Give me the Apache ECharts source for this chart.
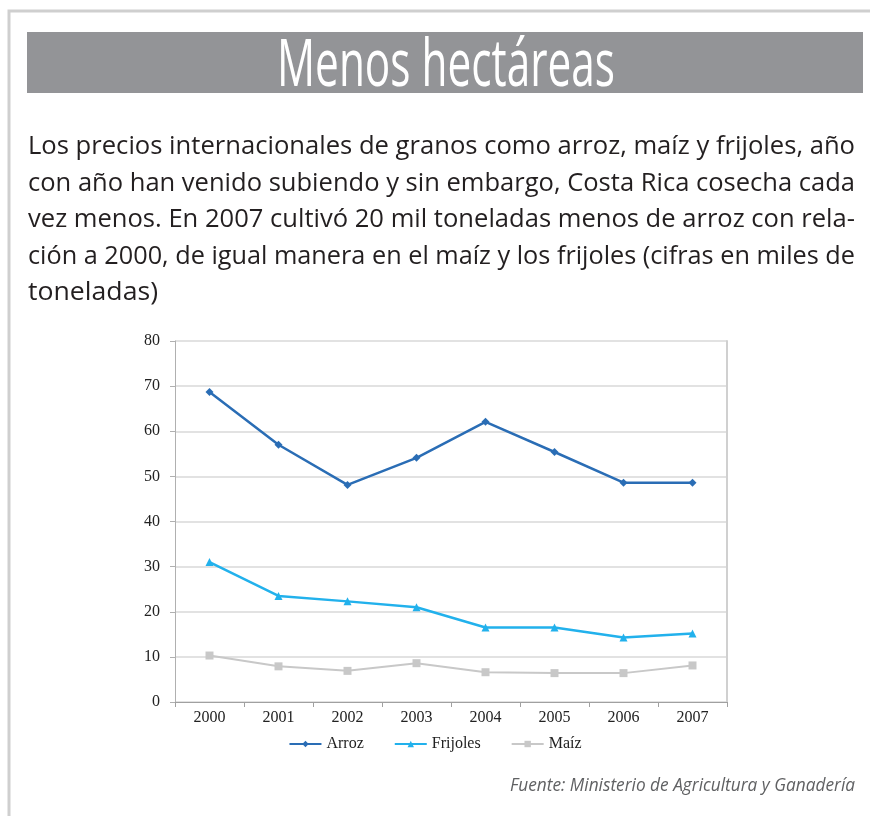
<!DOCTYPE html>
<html><head><meta charset="utf-8">
<script src="https://cdn.jsdelivr.net/npm/echarts@6/dist/echarts.min.js"></script>
<style>html,body{margin:0;padding:0;background:#fff}#c{width:870px;height:816px}</style>
</head><body><div id="c"></div>
<script>
const years = ['2000','2001','2002','2003','2004','2005','2006','2007'];
const arroz = [68.7, 57.0, 48.1, 54.1, 62.1, 55.4, 48.6, 48.6];
const frijoles = [31.0, 23.5, 22.3, 21.0, 16.5, 16.5, 14.3, 15.2];
const maiz = [10.3, 7.9, 6.9, 8.6, 6.6, 6.4, 6.4, 8.1];
const seriesNames = ['Arroz', 'Frijoles', 'Maíz'];
const titleText = 'Menos hectáreas';
const paragraph = [
  'Los precios internacionales de granos como arroz, maíz y frijoles, año',
  'con año han venido subiendo y sin embargo, Costa Rica cosecha cada',
  'vez menos. En 2007 cultivó 20 mil toneladas menos de arroz con rela-',
  'ción a 2000, de igual manera en el maíz y los frijoles (cifras en miles de',
  'toneladas)'
];
const sourceText = 'Fuente: Ministerio de Agricultura y Ganadería';

const cv = document.createElement('canvas').getContext('2d');
function measure(str, font){ cv.font = font; return cv.measureText(str).width; }

const chart = echarts.init(document.getElementById('c'), null, {renderer:'canvas'});

const paraSize = 25;
const graphics = [
  {type:'rect', shape:{x:9, y:11, width:870, height:900}, style:{fill:'none', stroke:'#cfcfcf', lineWidth:3}, silent:true},
  {type:'rect', shape:{x:27, y:32, width:836, height:61}, style:{fill:'#939497'}, silent:true}
];
// title
(function(){
  const f = 'normal 66px "Open Sans"';
  const w = measure(titleText, f);
  graphics.push({type:'text', x:446, y:67, scaleX: 338 / w, style:{text:titleText, font:f, fill:'#fff', textAlign:'center', textVerticalAlign:'middle'}});
})();
// paragraph
paragraph.forEach((line, i) => {
  const f = 'normal ' + paraSize + 'px "Open Sans"';
  const w = measure(line, f);
  const target = i < paragraph.length - 1 ? 827 : 130;
  graphics.push({type:'text', x:28, y:147 + i*36.5, scaleX: target / w, style:{text:line, font:f, fill:'#231f20', textAlign:'left', textVerticalAlign:'middle'}});
});
// source
(function(){
  const f = 'italic 18px "Open Sans"';
  const w = measure(sourceText, f);
  graphics.push({type:'text', x:510, y:786, scaleX: 345 / w, style:{text:sourceText, font:f, fill:'#606163', textAlign:'left', textVerticalAlign:'middle'}});
})();

const serifFont = '"Liberation Serif", "DejaVu Serif", serif';
chart.setOption({
  animation:false,
  backgroundColor:'#fff',
  graphic: graphics,
  grid:{left:175, right:143, top:341, bottom:114, containLabel:false},
  legend:{
    data: seriesNames, top:731, left:'center', itemWidth:32, itemHeight:8, itemGap:30,
    textStyle:{fontFamily:serifFont, fontSize:16, color:'#222'}
  },
  xAxis:{
    type:'category', data:years, boundaryGap:true,
    axisLine:{lineStyle:{color:'#a0a0a0', width:1}},
    axisTick:{show:true, interval:0, length:5, lineStyle:{color:'#a0a0a0'}},
    axisLabel:{fontFamily:serifFont, fontSize:16, color:'#222', margin:8}
  },
  yAxis:[{
    type:'value', min:0, max:80, interval:10,
    axisLine:{show:true, lineStyle:{color:'#b0b0b0', width:1}},
    axisTick:{show:true, length:5, lineStyle:{color:'#b0b0b0'}},
    axisLabel:{fontFamily:serifFont, fontSize:16, color:'#222', margin:15},
    splitLine:{lineStyle:{color:'#e2e2e2', width:2}}
  },{
    type:'value', min:0, max:80, interval:10, position:'right',
    axisLine:{show:true, lineStyle:{color:'#d0d0d0', width:2}},
    axisTick:{show:false}, axisLabel:{show:false}, splitLine:{show:false}
  }],
  series:[
    {name:seriesNames[0], type:'line', data:arroz, symbol:'diamond', symbolSize:8,
     lineStyle:{color:'#2a6db5', width:2.5}, itemStyle:{color:'#2a6db5'}},
    {name:seriesNames[1], type:'line', data:frijoles, symbol:'triangle', symbolSize:8,
     lineStyle:{color:'#22b1ec', width:2.5}, itemStyle:{color:'#22b1ec'}},
    {name:seriesNames[2], type:'line', data:maiz, symbol:'rect', symbolSize:8,
     lineStyle:{color:'#c8c8c8', width:2}, itemStyle:{color:'#c8c8c8'}}
  ]
});
</script></body></html>
